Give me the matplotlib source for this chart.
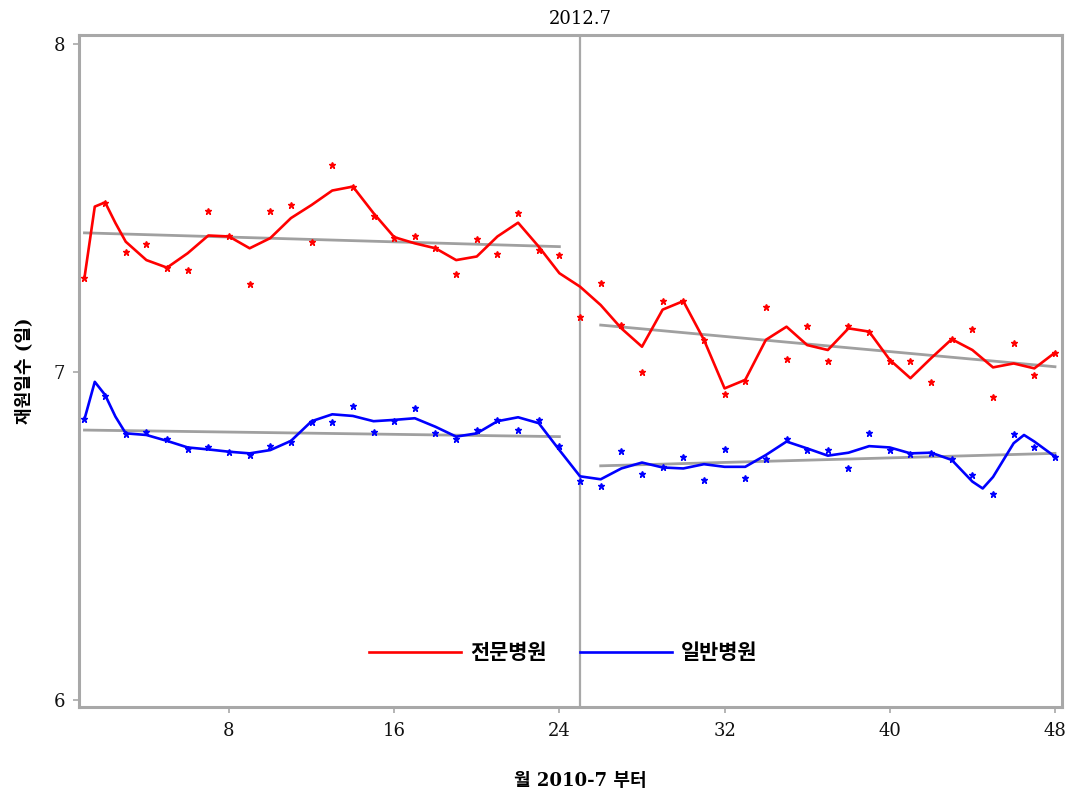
import matplotlib
matplotlib.use("Agg")
import matplotlib.pyplot as plt
import matplotlib.transforms as mtransforms
import numpy as np

plt.rcParams['font.family'] = ['DejaVu Serif', 'Noto Sans CJK KR']

# observed monthly values (month 1 = 2010-7)
months = list(range(1, 49))
red_obs = [7.287, 7.515, 7.366, 7.39, 7.317, 7.311, 7.491, 7.415, 7.268, 7.491,
           7.509, 7.396, 7.631, 7.564, 7.476, 7.409, 7.415, 7.378, 7.299, 7.405,
           7.36, 7.485, 7.372, 7.357, 7.168, 7.27, 7.143, 7.0, 7.216, 7.216,
           7.098, 6.933, 6.973, 7.198, 7.04, 7.14, 7.034, 7.14, 7.122, 7.034,
           7.034, 6.97, 7.10, 7.131, 6.924, 7.088, 6.99, 7.058]
blue_obs = [6.856, 6.927, 6.811, 6.817, 6.795, 6.766, 6.772, 6.755, 6.746, 6.774,
            6.788, 6.847, 6.847, 6.896, 6.817, 6.85, 6.889, 6.813, 6.795, 6.823,
            6.854, 6.823, 6.854, 6.774, 6.668, 6.653, 6.759, 6.688, 6.711, 6.742,
            6.671, 6.765, 6.677, 6.735, 6.795, 6.762, 6.762, 6.706, 6.813, 6.762,
            6.749, 6.752, 6.734, 6.685, 6.629, 6.812, 6.772, 6.74]

# smoothed curve values
red_fit_x = [1, 1.5, 2, 2.5] + list(range(3, 49))
red_fit = [7.287, 7.504, 7.517, 7.454, 7.397, 7.341, 7.318, 7.362, 7.416, 7.413,
           7.377, 7.408, 7.469, 7.509, 7.553, 7.565, 7.484, 7.411, 7.392, 7.377,
           7.341, 7.352, 7.413, 7.455, 7.382, 7.301, 7.26, 7.204, 7.133, 7.077,
           7.19, 7.216, 7.098, 6.95, 6.976, 7.098, 7.138, 7.082, 7.067, 7.133,
           7.123, 7.037, 6.981, 7.042, 7.1, 7.067, 7.014, 7.026, 7.011, 7.059]
blue_fit_x = [1, 1.5, 2, 2.5] + list(range(3, 45)) + [44.5, 45, 46, 46.5, 47, 48]
blue_fit = [6.856, 6.97, 6.93, 6.864, 6.813, 6.808, 6.79, 6.77, 6.764, 6.757,
            6.752, 6.762, 6.79, 6.85, 6.871, 6.866, 6.85, 6.854, 6.859, 6.833,
            6.803, 6.813, 6.85, 6.862, 6.844, 6.762, 6.682, 6.673, 6.706, 6.724,
            6.709, 6.706, 6.719, 6.711, 6.711, 6.747, 6.788, 6.767, 6.745, 6.754,
            6.774, 6.77, 6.752, 6.754, 6.732, 6.666, 6.645, 6.68, 6.783, 6.808,
            6.788, 6.742]

# linear trends before / after 2012.7
trend_x = [[1, 24], [26, 48]]
red_trend = [[7.424, 7.382], [7.143, 7.016]]
blue_trend = [[6.823, 6.803], [6.714, 6.752]]

break_month = 25
labels = ["전문병원", "일반병원"]

fig = plt.figure(figsize=(10.73, 7.98), dpi=100)
ax = fig.add_axes([79/1073, 91/798, 983/1073, 672/798])

gray = "#a8a8a8"
for tx, ty in zip(trend_x, red_trend):
    ax.plot(tx, ty, color="#a0a0a0", lw=2, zorder=2)
for tx, ty in zip(trend_x, blue_trend):
    ax.plot(tx, ty, color="#a0a0a0", lw=2, zorder=2)

ax.plot(months, red_obs, ls="none", marker="*", ms=5, color="#ff0000", zorder=3)
ax.plot(months, blue_obs, ls="none", marker="*", ms=5, color="#0000ff", zorder=3)
l1, = ax.plot(red_fit_x, red_fit, color="#ff0000", lw=1.9, zorder=4,
              solid_joinstyle="round")
l2, = ax.plot(blue_fit_x, blue_fit, color="#0000ff", lw=1.9, zorder=4,
              solid_joinstyle="round")

ax.axvline(break_month, color=gray, lw=1.6, zorder=1)
trans = mtransforms.blended_transform_factory(ax.transData, ax.transAxes)
ax.text(break_month, 1.01, "2012.7", transform=trans, ha="center", va="bottom",
        fontsize=13)

ax.set_xlim(0.736, 48.34)
ax.set_ylim(5.979, 8.027)
ax.set_xticks([8, 16, 24, 32, 40, 48])
ax.set_yticks([6, 7, 8])
for s in ax.spines.values():
    s.set_color(gray)
    s.set_linewidth(2.2)
ax.tick_params(colors=gray, labelcolor="#111111", labelsize=13, length=4, width=1.2)
ax.tick_params(axis="x", pad=7)
ax.tick_params(axis="y", pad=6)

ax.set_xlabel("월 2010-7 부터", fontsize=13, fontweight="bold")
ax.set_ylabel("재원일수 (일)", fontsize=13, fontweight="bold")
ax.xaxis.set_label_coords(0.51, -0.097)
ax.yaxis.set_label_coords(-0.047, 0.5)

ax.legend([l1, l2], labels, loc="center", bbox_to_anchor=(0.493, 0.08), ncol=2,
          frameon=False, handlelength=4.4, handletextpad=0.45, columnspacing=1.6,
          prop={"size": 15, "weight": "bold"})

fig.savefig("out.png", dpi=100)
